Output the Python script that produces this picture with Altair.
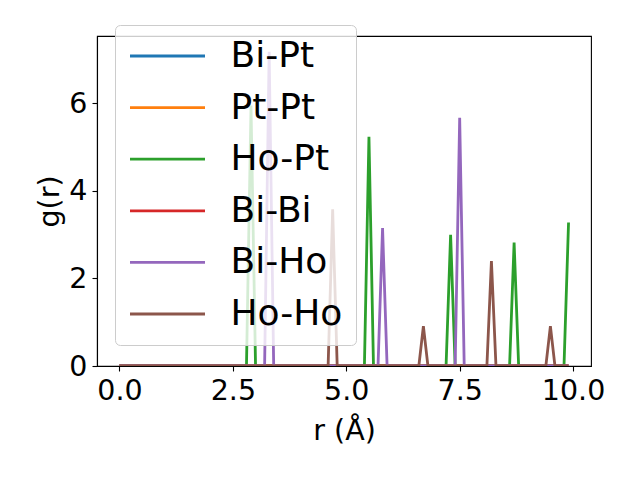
import altair as alt
import pandas as pd

# sampling grid of r (Å): 0.0 .. 9.9 step 0.1
R = [round(i * 0.1, 1) for i in range(100)]

SERIES = ["Bi-Pt", "Pt-Pt", "Ho-Pt", "Bi-Bi", "Bi-Ho", "Ho-Ho"]
COLORS = ["#1f77b4", "#ff7f0e", "#2ca02c", "#d62728", "#9467bd", "#8c564b"]

# non-zero g(r) values (everything else is 0)
PEAKS = {
    "Bi-Pt": {},
    "Pt-Pt": {},
    "Ho-Pt": {2.9: 5.95, 5.5: 5.24, 7.3: 3.00, 8.7: 2.82, 9.9: 3.28},
    "Bi-Bi": {},
    "Bi-Ho": {3.3: 7.18, 5.8: 3.15, 7.5: 5.67},
    "Ho-Ho": {4.7: 3.58, 6.7: 0.91, 8.2: 2.40, 9.5: 0.91},
}

X_TICKS = [0, 2.5, 5, 7.5, 10]
Y_TICKS = [0, 2, 4, 6]

rows = []
for s in SERIES:
    for r in R:
        rows.append({"r": r, "g": PEAKS[s].get(r, 0.0), "pair": s})
df = pd.DataFrame(rows)

FONT = "DejaVu Sans"
color = alt.Color(
    "pair:N",
    scale=alt.Scale(domain=SERIES, range=COLORS),
    legend=alt.Legend(
        title=None,
        orient="none",
        legendX=18,
        legendY=-11,
        symbolType="M-5,0H5",
        symbolSize=225,
        symbolOffset=21.5,
        symbolStrokeWidth=2.8,
        labelFontSize=36,
        labelFont=FONT,
        labelColor="black",
        labelOffset=45,
        rowPadding=15.6,
        padding=13,
        fillColor="rgba(255,255,255,0.8)",
        strokeColor="#cccccc",
        cornerRadius=5,
    ),
)

x = alt.X(
    "r:Q",
    scale=alt.Scale(domain=[-0.495, 10.395], nice=False, zero=False),
    axis=alt.Axis(values=X_TICKS, format=".1f", title="r (Å)"),
)
y = alt.Y(
    "g:Q",
    scale=alt.Scale(domain=[0, 7.54], nice=False),
    axis=alt.Axis(values=Y_TICKS, format="d", title="g(r)"),
)

layers = []
for s in SERIES:
    layers.append(
        alt.Chart(df)
        .transform_filter(alt.datum.pair == s)
        .mark_line(strokeWidth=2.8, clip=True)
        .encode(x=x, y=y, color=color)
    )

chart = (
    alt.layer(*layers)
    .properties(
        width=494,
        height=330,
        autosize=alt.AutoSizeParams(type="none"),
        padding={"left": 89, "top": 28, "right": 40, "bottom": 100},
    )
    .configure_view(stroke="black", strokeWidth=1.1)
    .configure_axis(
        grid=False,
        domainColor="black",
        domainWidth=1.1,
        tickColor="black",
        tickWidth=1.1,
        tickSize=5,
        labelFont=FONT,
        labelFontSize=28.5,
        labelColor="black",
        labelPadding=5,
        titleFont=FONT,
        titleFontSize=28.5,
        titleFontWeight="normal",
        titleColor="black",
    )
    .configure_axisX(titlePadding=12, labelFlush=False)
    .configure_axisY(titlePadding=4, labelFlush=False)
)

chart.save("out.html", embed_options={"renderer": "svg", "actions": False})
